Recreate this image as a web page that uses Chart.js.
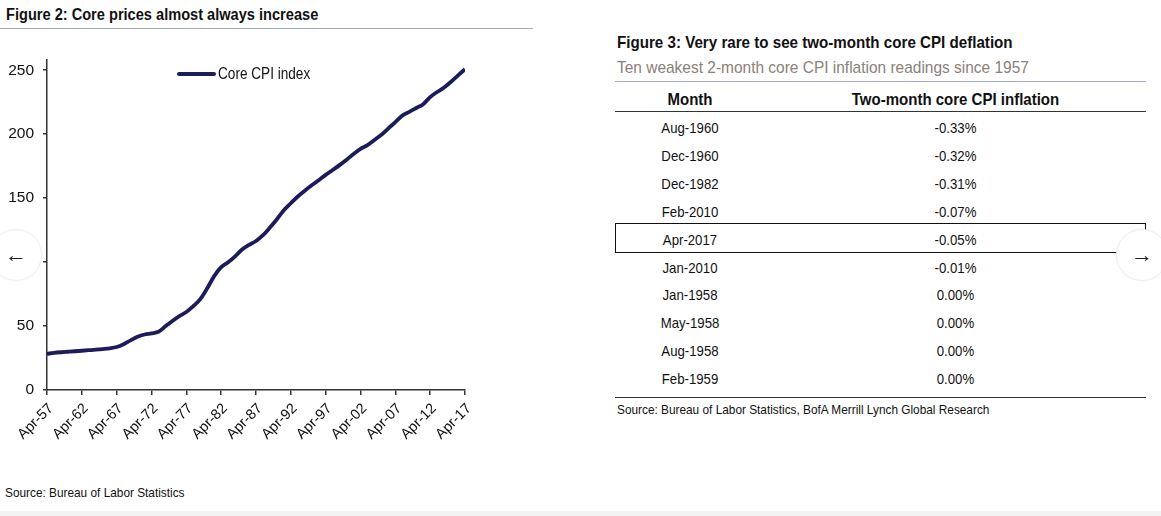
<!DOCTYPE html>
<html>
<head>
<meta charset="utf-8">
<script src="https://cdn.jsdelivr.net/npm/chart.js@4.4.1/dist/chart.umd.min.js"></script>
<style>
  html, body { margin:0; padding:0; background:#fff; }
  body { width:1161px; height:516px; position:relative; overflow:hidden;
         font-family:"Liberation Sans Narrow","Arial Narrow","Liberation Sans",Arial,sans-serif; color:#111; }
  .abs { position:absolute; }
  .nl { transform-origin:0 50%; }
  #t2 { left:6px; top:6px; font-weight:bold; font-size:16px; white-space:nowrap; transform:scaleX(0.912); }
  #t2line { left:0; top:28px; width:533px; height:0; border-top:1px solid #a4a8cc; }
  #chartWrap { left:0; top:0; width:540px; height:470px; }
  #legend { left:177px; top:64px; height:20px; display:flex; align-items:center; font-size:16px; white-space:nowrap; }
  #legend .sw { width:39px; height:4px; background:#1c1d58; border-radius:2px; margin-right:2px; }
  #legendText { display:inline-block; transform:scaleX(0.85); transform-origin:0 50%; }
  #src2 { left:5px; top:485px; font-size:13px; white-space:nowrap; transform:scaleX(0.91); }
  #t3 { left:617px; top:33px; font-weight:bold; font-size:16.5px; white-space:nowrap; transform:scaleX(0.918); }
  #t3sub { left:617px; top:58px; font-size:17px; color:#8b8178; white-space:nowrap; transform:scaleX(0.91); }
  #t3line { left:615px; top:81px; width:531px; border-top:1px solid #a4a8cc; }
  .hdr { font-weight:bold; font-size:16.5px; text-align:center; white-space:nowrap; transform:scaleX(0.91); }
  .cell { font-size:15px; text-align:center; white-space:nowrap; transform:scaleX(0.88); }
  #hline { left:615px; top:111px; width:531px; border-top:1.5px solid #333; }
  #bline { left:615px; top:397px; width:531px; border-top:1.5px solid #333; }
  #box { left:615px; top:223px; width:529px; height:28px; border:1.5px solid #111; }
  #src3 { left:617px; top:402px; font-size:13px; white-space:nowrap; transform:scaleX(0.91); }
  .nav { width:50px; height:50px; border-radius:50%; background:#fff; border:1px solid #efefef;
         box-shadow:0 0 3px rgba(0,0,0,0.04); display:flex; align-items:center; justify-content:center;
         font-family:"Liberation Sans",sans-serif; font-size:22px; color:#222; }
  #navL { left:-10px; top:229px; }
  #navR { left:1116px; top:229px; }
  #band { left:0; top:511px; width:1161px; height:5px; background:#f3f3f3; }
</style>
</head>
<body>
<div id="t2" class="abs nl">Figure 2: Core prices almost always increase</div>
<div id="t2line" class="abs"></div>
<div id="chartWrap" class="abs"><canvas id="c" width="540" height="470"></canvas></div>
<div id="legend" class="abs"><span class="sw"></span><span id="legendText"></span></div>
<div id="src2" class="abs nl">Source: Bureau of Labor Statistics</div>

<div id="t3" class="abs nl">Figure 3: Very rare to see two-month core CPI deflation</div>
<div id="t3sub" class="abs nl">Ten weakest 2-month core CPI inflation readings since 1957</div>
<div id="t3line" class="abs"></div>
<div id="table"></div>
<div id="hline" class="abs"></div>
<div id="box" class="abs"></div>
<div id="bline" class="abs"></div>
<div id="src3" class="abs nl">Source: Bureau of Labor Statistics, BofA Merrill Lynch Global Research</div>

<div id="band" class="abs"></div>
<div id="navL" class="abs nav">&#8592;</div>
<div id="navR" class="abs nav">&#8594;</div>

<script>
// ---- Figure 2 data (April readings) ----
const years = [1957,1958,1959,1960,1961,1962,1963,1964,1965,1966,1967,1968,1969,1970,1971,1972,1973,1974,1975,1976,
  1977,1978,1979,1980,1981,1982,1983,1984,1985,1986,1987,1988,1989,1990,1991,1992,1993,1994,1995,1996,
  1997,1998,1999,2000,2001,2002,2003,2004,2005,2006,2007,2008,2009,2010,2011,2012,2013,2014,2015,2016,2017];
const coreCPI = [28.3,29.0,29.5,29.9,30.3,30.7,31.1,31.5,32.0,32.6,33.6,35.8,38.8,41.6,43.4,44.3,45.5,49.8,54.0,57.8,
  61.0,65.5,71.0,79.5,89.0,96.0,99.8,104.5,109.8,113.5,116.5,121.0,127.0,133.5,140.5,146.0,151.3,155.8,160.0,164.0,
  168.2,172.0,175.8,180.0,184.5,188.5,191.5,195.5,199.5,204.5,209.5,214.5,217.5,220.5,223.5,229.0,233.0,236.5,241.0,246.0,250.8];
const seriesName = "Core CPI index";
const xTickLabels = ["Apr-57","Apr-62","Apr-67","Apr-72","Apr-77","Apr-82","Apr-87","Apr-92","Apr-97","Apr-02","Apr-07","Apr-12","Apr-17"];
const yTickValues = [0,50,100,150,200,250];

// ---- Figure 3 data ----
const tableHeaders = ["Month","Two-month core CPI inflation"];
const months = ["Aug-1960","Dec-1960","Dec-1982","Feb-2010","Apr-2017","Jan-2010","Jan-1958","May-1958","Aug-1958","Feb-1959"];
const inflation = ["-0.33%","-0.32%","-0.31%","-0.07%","-0.05%","-0.01%","0.00%","0.00%","0.00%","0.00%"];

document.getElementById('legendText').textContent = seriesName;

// Build table
(function(){
  const t = document.getElementById('table');
  const colL = [615, 765], colW = [150, 381];
  tableHeaders.forEach((h,j)=>{
    const d = document.createElement('div');
    d.className='abs hdr'; d.textContent=h;
    d.style.left=colL[j]+'px'; d.style.width=colW[j]+'px'; d.style.top='87px'; d.style.lineHeight='24px';
    t.appendChild(d);
  });
  const rowH = 27.9, top0 = 114;
  months.forEach((m,i)=>{
    [m, inflation[i]].forEach((txt,j)=>{
      const d = document.createElement('div');
      d.className='abs cell'; d.textContent=txt;
      d.style.left=colL[j]+'px'; d.style.width=colW[j]+'px';
      d.style.top=(top0+i*rowH)+'px'; d.style.height=rowH+'px'; d.style.lineHeight=rowH+'px';
      t.appendChild(d);
    });
  });
})();

const FONT = '"Liberation Sans",Arial,sans-serif';
new Chart(document.getElementById('c'), {
  type: 'line',
  data: {
    datasets: [{
      label: seriesName,
      data: years.map((y,i)=>({x:y, y:coreCPI[i]})),
      borderColor: '#1c1d58',
      borderWidth: 3.8,
      pointRadius: 0,
      tension: 0.3,
      cubicInterpolationMode: 'monotone',
      fill: false
    }]
  },
  options: {
    responsive: false,
    animation: false,
    layout: { padding: { top: 60, right: 75, left: 0, bottom: 0 } },
    plugins: { legend: { display: false }, tooltip: { enabled: false } },
    scales: {
      x: {
        type: 'linear', min: 1957, max: 2017,
        afterFit: s => { s.height = 80; },
        afterBuildTicks: s => { s.ticks = xTickLabels.map((l,i)=>({value: 1957 + i*5})); },
        ticks: {
          autoSkip: false, maxRotation: 45, minRotation: 45, padding: 5, labelOffset: 4,
          color: '#111', font: { family: FONT, size: 14.5 },
          callback: (v, i) => xTickLabels[i]
        },
        grid: { drawOnChartArea: false, drawTicks: true, tickLength: 5, color: '#333', lineWidth: 1.5 },
        border: { display: true, color: '#333', width: 1.5 }
      },
      y: {
        min: 0, max: 258,
        afterFit: s => { s.width = 47; },
        afterBuildTicks: s => { s.ticks = yTickValues.map(v=>({value:v})); },
        ticks: { color: '#111', padding: 9, font: { family: FONT, size: 15.5 } },
        grid: { drawOnChartArea: false, drawTicks: true, tickLength: 4, color: '#333', lineWidth: 1.5 },
        border: { display: true, color: '#333', width: 1.5 }
      }
    }
  }
});
</script>
</body>
</html>
